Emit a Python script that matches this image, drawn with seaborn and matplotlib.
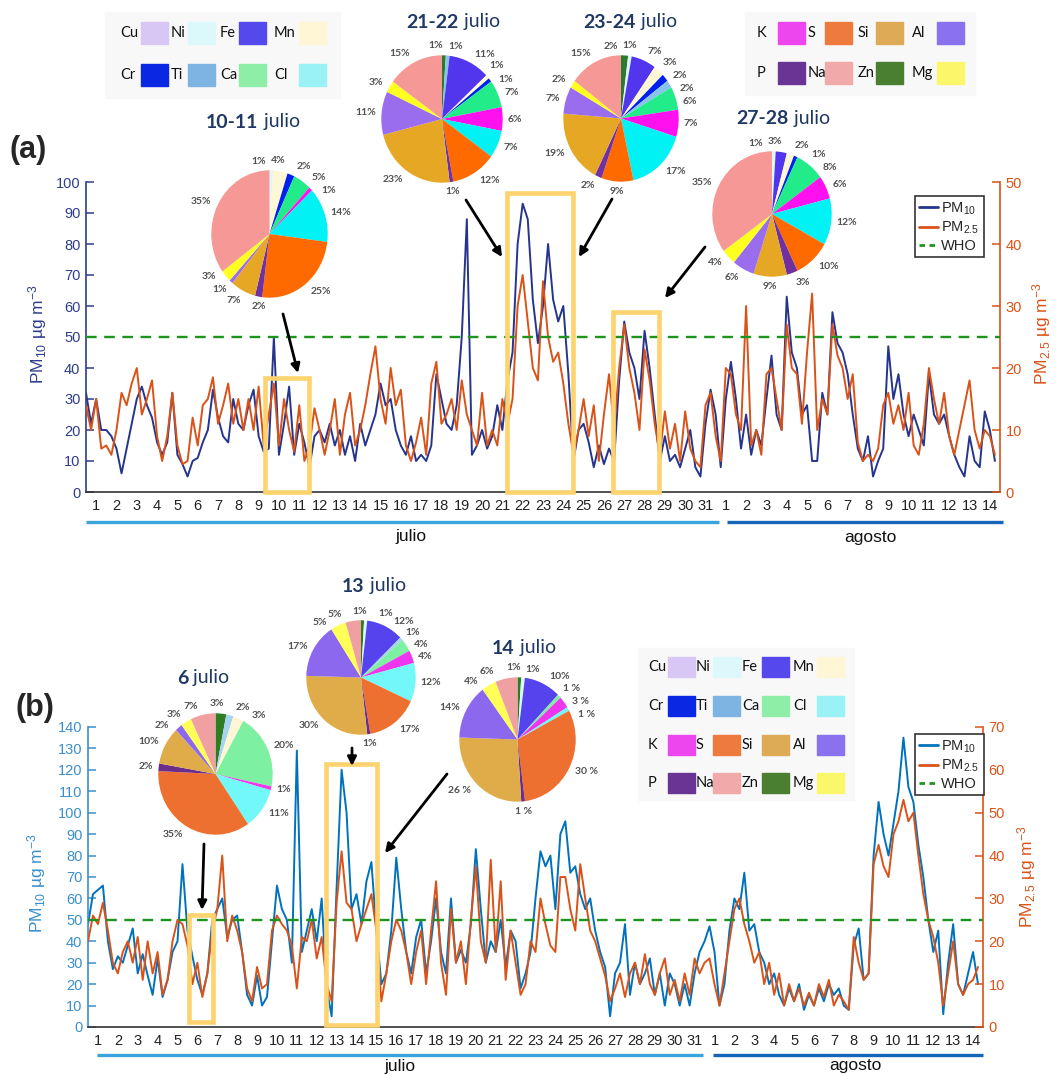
import numpy as np
import pandas as pd
import matplotlib
matplotlib.use("Agg")
import matplotlib.pyplot as plt
import matplotlib.transforms as mtransforms
from matplotlib.patches import Rectangle, FancyArrowPatch
from matplotlib.lines import Line2D
import seaborn as sns

sns.set_style("white")
plt.rcParams["font.family"] = ["Liberation Sans", "DejaVu Sans"]
plt.rcParams["mathtext.fontset"] = "custom"
plt.rcParams["mathtext.rm"] = "Liberation Sans"
plt.rcParams["mathtext.it"] = "Liberation Sans:italic"
plt.rcParams["mathtext.bf"] = "Liberation Sans:bold"

# ---------------------------------------------------------------- data
# 6-hourly concentrations, 1 July -> 14 August (one row per day)
PM10_A = [
    [32, 22, 30, 20], [20, 18, 14, 6], [14, 22, 30, 34], [28, 24, 16, 12], [16, 32, 12, 9],
    [5, 10, 11, 16], [20, 33, 24, 18], [16, 30, 22, 20], [28, 33, 18, 13], [14, 50, 12, 22],
    [34, 12, 22, 16], [8, 18, 20, 16], [22, 15, 20, 12], [18, 10, 22, 15], [20, 25, 35, 28],
    [30, 20, 15, 12], [18, 10, 12, 10], [15, 38, 30, 22], [20, 28, 50, 88], [12, 15, 20, 14],
    [18, 28, 20, 36], [45, 80, 93, 88], [62, 48, 60, 80], [62, 55, 60, 38], [10, 20, 22, 16],
    [8, 15, 9, 14], [10, 36, 55, 45], [40, 30, 52, 40], [25, 10, 18, 10], [12, 8, 14, 20],
    [8, 5, 22, 33], [25, 8, 30, 42], [30, 14, 25, 12], [20, 15, 30, 44], [25, 20, 63, 45],
    [40, 25, 28, 10], [10, 32, 25, 58], [48, 45, 38, 25], [14, 10, 18, 5], [10, 14, 47, 30],
    [38, 25, 18, 25], [20, 15, 38, 25], [22, 25, 18, 12], [8, 5, 18, 10], [8, 26, 20, 10],
]
PM25_A = [
    [14, 10, 15, 7], [7.5, 6, 10, 16], [14, 17.5, 20, 12.5], [15, 18, 9, 5], [9, 16, 7.5, 4.5],
    [5, 12, 7.5, 14], [15, 18.5, 11, 14], [17.5, 11, 15, 10], [15, 10, 17, 7.5], [12.5, 17.5, 7.5, 15],
    [10, 6.5, 14, 5], [7.5, 13.5, 10, 6], [10, 15, 6, 12.5], [16, 7.5, 10, 14], [19, 23.5, 15, 11],
    [20, 14, 16.5, 7.5], [5, 8, 12, 6], [17.5, 21, 11, 12.5], [15, 10, 18, 12.5], [10, 7.5, 16, 7.5],
    [10, 7.5, 15, 11], [15, 30, 35, 27.5], [20, 18, 34, 25], [21, 22.5, 17.5, 11], [6, 10, 15, 9],
    [14, 5, 12.5, 19], [10, 20, 27, 20], [16, 10, 23, 18], [11, 6, 13, 7], [11, 5, 13, 7],
    [5, 4, 14, 16], [9, 5, 20, 19], [12.5, 10, 30, 7.5], [10, 6, 19, 20], [15, 10, 27, 20],
    [19, 11, 22.5, 32], [10, 15, 12.5, 27], [22, 20, 15, 19], [8, 5, 6, 5], [7, 14, 16, 11],
    [14, 10, 16, 7.5], [6, 11, 20, 15], [11, 16, 9, 6], [10, 14, 18, 10], [7, 10, 9, 6],
]
PM10_B = [
    [48, 62, 64, 66], [40, 27, 33, 30], [38, 46, 25, 34], [24, 15, 32, 14], [22, 35, 40, 76],
    [45, 33, 22, 15], [25, 50, 55, 60], [42, 50, 52, 35], [15, 10, 24, 10], [14, 40, 66, 55],
    [50, 30, 129, 35], [45, 55, 40, 60], [18, 5, 65, 120], [100, 55, 62, 48], [68, 77, 45, 20],
    [25, 45, 79, 55], [35, 25, 42, 50], [25, 40, 60, 35], [25, 60, 30, 36], [30, 48, 83, 55],
    [30, 40, 35, 50], [28, 45, 40, 18], [25, 35, 60, 82], [75, 80, 55, 90], [96, 72, 75, 62],
    [55, 60, 45, 35], [28, 5, 25, 30], [48, 15, 30, 20], [25, 32, 15, 25], [10, 25, 20, 10],
    [20, 10, 25, 35], [40, 47, 35, 10], [20, 45, 60, 55], [72, 45, 48, 35], [30, 20, 25, 15],
    [10, 18, 12, 20], [8, 15, 10, 18], [12, 20, 15, 18], [10, 8, 38, 46], [22, 25, 80, 105],
    [90, 80, 95, 110], [135, 112, 105, 85], [70, 50, 35, 45], [6, 30, 48, 20], [15, 25, 35, 20],
]
PM25_B = [
    [20, 26, 24, 29], [22.5, 15, 12.5, 17.5], [20, 15, 21, 11], [20, 12.5, 17.5, 7.5], [11, 20, 25, 24],
    [19, 10, 15, 7], [12.5, 22.5, 27.5, 40], [20, 26, 22.5, 17.5], [9, 6, 14, 9], [10, 22.5, 26, 24],
    [22.5, 19, 9, 21], [20, 25, 16, 21], [10, 6, 29, 41], [29, 27.5, 20, 24], [27.5, 31, 22.5, 6],
    [12.5, 20, 25, 22.5], [17.5, 10, 17.5, 22.5], [10, 22.5, 34, 15], [7.5, 27.5, 15, 20], [10, 25, 37.5, 20],
    [15, 39, 17.5, 34], [11, 22.5, 15, 7.5], [10, 20, 17.5, 30], [24, 19, 17.5, 35], [35, 27.5, 22.5, 38],
    [30, 22.5, 20, 16], [12, 6, 9, 12.5], [7, 12.5, 15, 10], [17, 10, 7.5, 12.5], [16, 7.5, 11, 6],
    [12.5, 7.5, 16, 12.5], [15, 16, 10, 5], [12.5, 20, 27.5, 30], [24, 20, 15, 17.5], [10, 15, 7.5, 12.5],
    [5, 10, 6, 9], [5, 8, 5, 10], [7, 11, 5, 7.5], [6, 4, 21, 15], [11, 12.5, 38, 42.5],
    [37.5, 35, 45, 48], [53, 48, 50, 40], [31, 25, 21, 15], [5, 12.5, 20, 10], [7.5, 10, 11, 14],
]

DAY_LABELS = [str(d) for d in range(1, 32)] + [str(d) for d in range(1, 15)]
MONTHS = ["julio", "agosto"]
WHO_PM10 = 50
WHO_PM25 = 25

# highlighted sampling windows: (start day, end day, top in PM10 units, bottom)
WINDOWS_A = [(8.81, 10.98, 36.8, 0), (20.73, 23.98, 96.5, 0), (25.95, 28.21, 58, 0)]
WINDOWS_B = [(5.08, 6.28, 52.3, 2.3), (11.97, 14.53, 122.7, 1)]

# elemental composition pies (clockwise from 12 o'clock)
PIE_A1_EL = ["Ni", "Mn", "Cr", "Ca", "K", "Cl", "S", "P", "Si", "Al", "Mg", "Na"]
PIE_A1_PCT = [1, 4, 2, 5, 1, 14, 25, 2, 7, 1, 3, 35]
PIE_A2_EL = ["Zn", "Ti", "Fe", "Mn", "Cr", "Ca", "K", "Cl", "S", "P", "Si", "Al", "Mg", "Na"]
PIE_A2_PCT = [1, 1, 11, 1, 1, 7, 6, 7, 12, 1, 23, 11, 3, 15]
PIE_A3_EL = ["Zn", "Ni", "Fe", "Mn", "Cr", "Ti", "Ca", "K", "Cl", "S", "P", "Si", "Al", "Mg", "Na"]
PIE_A3_PCT = [2, 1, 7, 3, 2, 2, 6, 7, 17, 9, 2, 19, 7, 2, 15]
PIE_A4_EL = ["Ni", "Fe", "Mn", "Cr", "Ca", "K", "Cl", "S", "P", "Si", "Al", "Mg", "Na"]
PIE_A4_PCT = [1, 3, 2, 1, 8, 6, 12, 10, 3, 9, 6, 4, 35]
PIE_B1_EL = ["Zn", "Ti", "Mn", "Ca", "K", "Cl", "S", "P", "Si", "Al", "Mg", "Na"]
PIE_B1_PCT = [3, 2, 3, 20, 1, 11, 35, 2, 10, 2, 3, 7]
PIE_B2_EL = ["Zn", "Ni", "Fe", "Ti", "Ca", "K", "Cl", "S", "P", "Si", "Al", "Mg", "Na"]
PIE_B2_PCT = [1, 1, 12, 1, 4, 4, 12, 17, 1, 30, 17, 5, 5]
PIE_B3_EL = ["Zn", "Ni", "Fe", "Ca", "K", "Cl", "S", "P", "Si", "Al", "Mg", "Na"]
PIE_B3_PCT = [1, 1, 10, 1, 3, 1, 30, 1, 26, 14, 4, 6]
PIE_B3_TXT = ["1%", "1%", "10%", "1 %", "3 %", "1 %", "30 %", "1 %", "26 %", "14%", "4%", "6%"]

KEY_ROWS_A = [["Cu", "Ni", "Fe", "Mn"], ["Cr", "Ti", "Ca", "Cl"]]
KEY_ROWS_A2 = [["K", "S", "Si", "Al"], ["P", "Na", "Zn", "Mg"]]
KEY_ROWS_B = KEY_ROWS_A + KEY_ROWS_A2

# ---------------------------------------------------------------- styles
KEY_COL = {
    "Cu": "#D8C6F4", "Ni": "#DDF8FA", "Fe": "#5548EC", "Mn": "#FFF6D6",
    "Cr": "#0A28E4", "Ti": "#7DB4E2", "Ca": "#8EEEA8", "Cl": "#9AF2F6",
    "K": "#EE46EE", "S": "#EE7A3E", "Si": "#DDAA55", "Al": "#8A72EE",
    "P": "#6A3494", "Na": "#F2A9AA", "Zn": "#4A7E30", "Mg": "#FAF86A",
}
PIE_COL_A = dict(KEY_COL, **{
    "Fe": "#5236EE", "Cr": "#0020EE", "Ca": "#22EC8A", "Cl": "#00F2F4", "K": "#FF10EE",
    "S": "#FF6A00", "Si": "#E6A824", "Al": "#9A6CEE", "P": "#7030A0", "Na": "#F59896",
    "Zn": "#2E7A2E", "Mg": "#FFFF20", "Ti": "#88C4EA",
})
PIE_COL_B = dict(KEY_COL, **{
    "Fe": "#5544EE", "Ca": "#7EF0A2", "Cl": "#72F8F8", "K": "#EE36EE", "S": "#EE7030",
    "Si": "#E0AC4A", "Al": "#8C68EE", "P": "#6B2D8A", "Na": "#F0A0A0", "Zn": "#2E7D22",
    "Mg": "#FFFF58", "Ti": "#A6D4EE",
})
ORANGE = "#D95319"
NAVY_LINE = "#25358E"
BLUE_LINE = "#0072BD"
GREEN = "#1E931E"
YELLOW = "#FCD36E"
TITLE_NAVY = "#1F3864"

W, H = 1059, 1076
fig = plt.figure(figsize=(W / 100, H / 100), dpi=100)


def fx(p):
    return p / W


def fy(p):
    return 1 - p / H


DAY = np.arange(len(PM10_A) * 4) / 4.0


def series_panel(left, right, top, bottom, pm10, pm25, c10, c_axis, ymax,
                 windows, month_y, month_segments, month_text, lbl_pos, legend_xy):
    ax = fig.add_axes([fx(left), fy(bottom), (right - left) / W, (bottom - top) / H])
    ax2 = ax.twinx()
    df = pd.DataFrame({"day": DAY,
                       "pm10": np.ravel(pm10),
                       "pm25": np.ravel(pm25)})
    sns.lineplot(data=df, x="day", y="pm10", ax=ax, color=c10, lw=1.4, legend=False)
    sns.lineplot(data=df, x="day", y="pm25", ax=ax2, color=ORANGE, lw=1.4, legend=False)
    ax2.axhline(WHO_PM25, color=GREEN, lw=1.7, ls=(0, (4.5, 3.2)), zorder=4)

    ax.set_xlim(0, 45)
    ax.set_ylim(0, ymax)
    ax2.set_ylim(0, ymax / 2)
    ax.set_xlabel("")
    ax2.set_xlabel("")

    for s in ("top", "right"):
        ax.spines[s].set_visible(False)
    for s in ("top", "left", "bottom"):
        ax2.spines[s].set_visible(False)
    ax.spines["left"].set_color(c_axis)
    ax.spines["bottom"].set_color("#333333")
    ax2.spines["right"].set_color(ORANGE)
    for sp in (ax.spines["left"], ax.spines["bottom"], ax2.spines["right"]):
        sp.set_linewidth(1.2)

    ax.set_xticks(np.arange(0, 46))
    ax.set_xticklabels([])
    ax.set_xticks(np.arange(45) + 0.5, minor=True)
    ax.set_xticklabels(DAY_LABELS, minor=True)
    ax.tick_params(axis="x", which="major", direction="in", length=6, width=1.1, color="#333333")
    ax.tick_params(axis="x", which="minor", length=0, pad=5, labelsize=10.5, labelcolor="#222222")

    ax.set_yticks(np.arange(0, ymax + 1, 10))
    ax.tick_params(axis="y", direction="in", length=6, width=1.1, colors=c_axis, labelsize=10.5, pad=4)
    ax2.set_yticks(np.arange(0, ymax / 2 + 1, 10))
    ax2.tick_params(axis="y", direction="in", length=6, width=1.1, colors=ORANGE, labelsize=10.5, pad=4)

    ax.set_ylabel("PM$_{10}$ µg m$^{-3}$", color=c_axis, fontsize=12.5)
    ax2.set_ylabel("PM$_{2.5}$ µg m$^{-3}$", color=ORANGE, fontsize=12.5)
    ax.yaxis.set_label_coords(*lbl_pos[0])
    ax2.yaxis.set_label_coords(*lbl_pos[1])

    for x0, x1, ytop, ybot in windows:
        ax2.add_patch(Rectangle((x0, ybot), x1 - x0, ytop - ybot, transform=ax.transData,
                                fill=False, ec=YELLOW, lw=3.3, clip_on=False, zorder=6))

    trans = mtransforms.blended_transform_factory(ax.transData, ax.transAxes)
    for (x0, x1), col in zip(month_segments, ("#3AA4DD", "#1565B8")):
        ax.add_line(Line2D([x0, x1], [month_y, month_y], transform=trans, color=col,
                           lw=2.4, clip_on=False, solid_capstyle="butt"))
    for name, (xm, ym) in zip(MONTHS, month_text):
        ax.text(xm, ym, name, transform=trans, ha="center", va="center", fontsize=12.5, color="#111111")

    handles = [Line2D([], [], color=c10, lw=2), Line2D([], [], color=ORANGE, lw=2),
               Line2D([], [], color=GREEN, lw=2, ls=(0, (2, 1.6)))]
    leg = ax2.legend(handles, ["PM$_{10}$", "PM$_{2.5}$", "WHO"], loc="upper left",
                     bbox_to_anchor=(fx(legend_xy[0]), fy(legend_xy[1])),
                     bbox_transform=fig.transFigure, frameon=True, fancybox=False,
                     edgecolor="#333333", framealpha=1, fontsize=10.5, handlelength=1.3,
                     handletextpad=0.2, borderpad=0.3, labelspacing=0.2, borderaxespad=0)
    leg.get_frame().set_linewidth(1.2)
    leg.set_zorder(10)
    return ax, ax2


series_panel(86, 1000, 182, 492, PM10_A, PM25_A, NAVY_LINE, "#2E3C8E", 100, WINDOWS_A,
             -0.097, [(0, 31.17), (31.56, 45.15)], [(16.0, -0.145), (38.6, -0.148)],
             [(-0.041, 0.51), (1.033, 0.51)], (915, 196))
series_panel(88, 983, 727, 1027, PM10_B, PM25_B, BLUE_LINE, "#3A8FCC", 140, WINDOWS_B,
             -0.093, [(0.45, 30.9), (31.4, 45.0)], [(15.7, -0.133), (38.6, -0.127)],
             [(-0.045, 0.48), (1.036, 0.50)], (915, 734))

renderer = fig.canvas.get_renderer()


def two_part_title(cx, cy, bold, rest, size=14):
    t1 = fig.text(0, fy(cy), bold, fontsize=size, fontweight="bold", color=TITLE_NAVY,
                  family="Lato", ha="left", va="center")
    t2 = fig.text(0, fy(cy), "\u00a0" + rest, fontsize=size, color=TITLE_NAVY,
                  family="Lato", ha="left", va="center")
    w1 = t1.get_window_extent(renderer).width
    w2 = t2.get_window_extent(renderer).width
    x0 = cx - (w1 + w2) / 2
    t1.set_x(fx(x0))
    t2.set_x(fx(x0 + w1))


def spread_angles(ang, iterations=200):
    """Push neighbouring label angles apart (circularly) until they no longer collide."""
    ang = np.array(ang, dtype=float)
    n = len(ang)
    for _ in range(iterations):
        moved = False
        for i in range(n):
            j = (i + 1) % n
            ai = ang[i]
            aj = ang[j] + (360.0 if j == 0 else 0.0)
            mid = np.deg2rad((ai + aj) / 2)
            need = 8.0 + 8.5 * abs(np.cos(mid))
            gap = aj - ai
            if gap < need - 1e-6:
                d = (need - gap) / 2
                ang[i] -= d
                ang[j] += d
                moved = True
        if not moved:
            break
    return ang


def pie_inset(cx, cy, rx, ry, names, pct, palette, texts=None):
    pax = fig.add_axes([fx(cx - rx), fy(cy + ry), 2 * rx / W, 2 * ry / H])
    labels = texts if texts is not None else [f"{p}%" for p in pct]
    pax.pie(pct, colors=[palette[n] for n in names], startangle=90, counterclock=False,
            wedgeprops=dict(linewidth=0))
    pax.set_aspect("auto")
    pax.set_xlim(-1.005, 1.005)
    pax.set_ylim(-1.005, 1.005)
    pax.axis("off")

    # label angles in degrees clockwise from 12 o'clock
    edges = np.cumsum([0] + list(pct)) / float(sum(pct)) * 360.0
    ang = spread_angles((edges[:-1] + edges[1:]) / 2)
    for a, t in zip(ang, labels):
        th = np.deg2rad(90 - a)
        dist = 1.08 + 0.08 * abs(np.sin(th))
        x, y = dist * np.cos(th), dist * np.sin(th)
        ha = "left" if x > 0.3 else ("right" if x < -0.3 else "center")
        pax.text(x, y, t, ha=ha, va="center", fontsize=7.5, color="#505050",
                 fontweight="bold", family="Lato", clip_on=False)


pie_inset(269.5, 234, 58.5, 64, PIE_A1_EL, PIE_A1_PCT, PIE_COL_A)
pie_inset(442, 119, 61, 64, PIE_A2_EL, PIE_A2_PCT, PIE_COL_A)
pie_inset(621, 118.5, 58, 63.5, PIE_A3_EL, PIE_A3_PCT, PIE_COL_A)
pie_inset(772, 214, 60, 63, PIE_A4_EL, PIE_A4_PCT, PIE_COL_A)
pie_inset(215.5, 774, 57.5, 61, PIE_B1_EL, PIE_B1_PCT, PIE_COL_B)
pie_inset(361, 677.5, 55, 57.5, PIE_B2_EL, PIE_B2_PCT, PIE_COL_B)
pie_inset(517.5, 739.5, 58.5, 62.5, PIE_B3_EL, PIE_B3_PCT, PIE_COL_B, texts=PIE_B3_TXT)

two_part_title(253, 122, "10-11", "julio")
two_part_title(453, 22, "21-22", "julio")
two_part_title(630, 22, "23-24", "julio")
two_part_title(783, 119, "27-28", "julio")
two_part_title(203, 678, "6", "julio")
two_part_title(374, 586, "13", "julio")
two_part_title(524, 648, "14", "julio")


def element_key(rows, text_x, swatch_x, row_y, box, sw=27, sh=21):
    x0, y0, x1, y1 = box
    fig.patches.append(Rectangle((fx(x0), fy(y1)), (x1 - x0) / W, (y1 - y0) / H,
                                 transform=fig.transFigure, color="#F8F8F8", zorder=0))
    for row, yc in zip(rows, row_y):
        for name, tx, sx in zip(row, text_x, swatch_x):
            fig.text(fx(tx), fy(yc), name, fontsize=10.5, family="Lato", color="#111111",
                     ha="left", va="center")
            fig.patches.append(Rectangle((fx(sx), fy(yc + sh / 2)), sw / W, sh / H,
                                         transform=fig.transFigure, color=KEY_COL[name], zorder=1))


element_key(KEY_ROWS_A, [120, 171, 220, 274], [141, 188, 239, 299], [33, 75], (105, 12, 340, 98))
element_key(KEY_ROWS_A2, [757, 808, 858, 912], [778, 825, 876, 937], [33, 73], (745, 12, 975, 95))
element_key(KEY_ROWS_B, [648, 696, 742, 793], [668, 713, 762, 817], [667, 706, 745, 783],
            (638, 648, 854, 800), sw=27, sh=20)

ARROWS = [((283, 314), (298, 373)), ((466, 200), (502, 257)), ((612, 199), (579, 257)),
          ((705, 247), (665, 298)), ((204, 844), (202, 910)), ((352, 748), (352, 766)),
          ((447, 774), (385, 853))]
for (xa, ya), (xb, yb) in ARROWS:
    fig.add_artist(FancyArrowPatch((fx(xa), fy(ya)), (fx(xb), fy(yb)), transform=fig.transFigure,
                                   arrowstyle="-|>", mutation_scale=13, lw=2.0, color="black",
                                   shrinkA=0, shrinkB=0, zorder=20))

fig.text(fx(28), fy(150), "(a)", fontsize=22, fontweight="bold", ha="center", va="center")
fig.text(fx(35), fy(708), "(b)", fontsize=22, fontweight="bold", ha="center", va="center")

fig.savefig("out.png", dpi=100)
